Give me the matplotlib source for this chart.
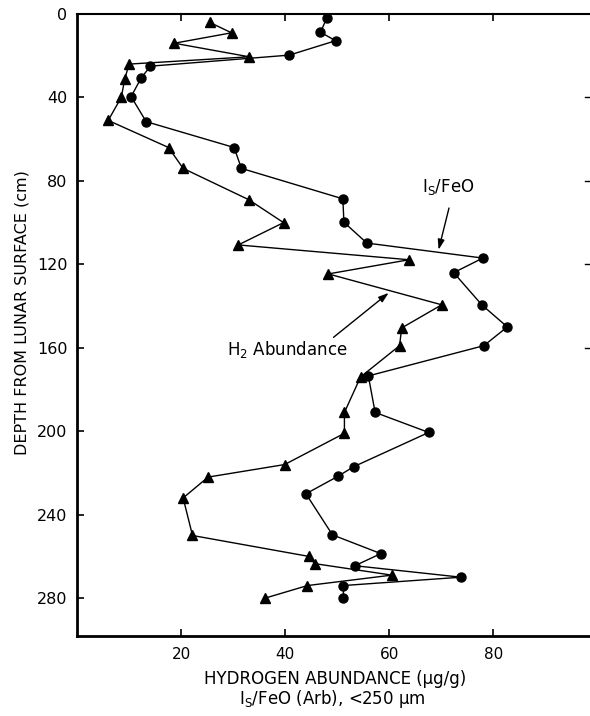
import matplotlib
matplotlib.use("Agg")
import matplotlib.pyplot as plt

plt.rcParams["font.family"] = ["DejaVu Sans"]

# -------------------------------------------------
# DATA
# -------------------------------------------------
h2_depth = [4, 9, 14, 20.5, 24, 31, 40, 51, 64, 74, 89, 100, 110.7, 117.8, 124.6,
            139.4, 150.5, 159, 174, 191, 201, 216, 222, 232, 250, 260, 263.5,
            269, 274, 280]
h2_abund = [25.5, 29.7, 18.7, 33.1, 10, 9.2, 8.5, 6, 17.6, 20.4, 33, 39.7, 31,
            63.8, 48.3, 70.1, 62.4, 62, 54.5, 51.4, 51.4, 39.9, 25.2, 20.4, 22.2,
            44.5, 45.7, 60.5, 44.3, 36.2]

is_depth = [2, 8.7, 12.8, 19.7, 25, 30.8, 39.6, 51.6, 64, 74, 88.6, 99.8, 109.8,
            117, 124, 139.4, 150, 159, 173.5, 191, 200.6, 217, 221.7, 230, 249.7,
            258.7, 264.5, 270, 274, 280]
is_feo = [48, 46.8, 49.7, 40.8, 14.1, 12.3, 10.4, 13.3, 30.2, 31.6, 51.1, 51.3,
          55.7, 78, 72.4, 77.8, 82.7, 78.2, 56, 57.3, 67.6, 53.2, 50.1, 44, 49.1,
          58.4, 53.4, 73.8, 51.2, 51.2]

x_ticks = [20, 40, 60, 80]
y_ticks = [0, 40, 80, 120, 160, 200, 240, 280]

# -------------------------------------------------
# PLOT
# -------------------------------------------------
fig = plt.figure(figsize=(5.9, 7.16), dpi=100)
ax = fig.add_axes([0.1305, 0.1117, 0.8695, 0.8687])

ax.plot(h2_abund, h2_depth, color="black", lw=1.0, marker="^", ms=6.5)
ax.plot(is_feo, is_depth, color="black", lw=1.0, marker="o", ms=6.5)

ax.set_xlim(0, 98.6)
ax.set_ylim(298.2, 0)
ax.set_xticks(x_ticks)
ax.set_yticks(y_ticks)
ax.tick_params(direction="in", length=5, width=1.2, top=True, labeltop=False)
ax.tick_params(axis="x", labelsize=11, pad=8)
ax.tick_params(axis="y", labelsize=11.5, pad=7)

ax.spines["right"].set_visible(False)
ax.spines["left"].set_linewidth(2)
ax.spines["bottom"].set_linewidth(2)
ax.spines["top"].set_linewidth(1.5)

# small marks on the open right side
for d in [40, 80, 120, 160]:
    ax.plot([97.6, 98.6], [d, d], color="black", lw=1, clip_on=False)

# axis titles
fig.text(22 / 590, 1 - 313 / 716, "DEPTH FROM LUNAR SURFACE (cm)",
         rotation=90, ha="center", va="center", fontsize=11.5)
fig.text(335 / 590, 1 - 679 / 716, "HYDROGEN ABUNDANCE (\u03bcg/g)",
         ha="center", va="center", fontsize=12)
fig.text(332 / 590, 1 - 699 / 716, "I$_\\mathregular{S}$/FeO (Arb), <250 \u03bcm",
         ha="center", va="center", fontsize=12)

# labels with arrows
arrow = dict(arrowstyle="-|>,head_length=0.6,head_width=0.2", color="black",
             lw=1, shrinkA=0, shrinkB=0)
ax.text(71.4, 83, "I$_\\mathregular{S}$/FeO", fontsize=12, ha="center", va="center")
ax.annotate("", xy=(69.5, 113), xytext=(71.5, 93), arrowprops=arrow)
ax.text(40.5, 161, "H$_2$ Abundance", fontsize=12, ha="center", va="center")
ax.annotate("", xy=(59.9, 133.7), xytext=(49.3, 155), arrowprops=arrow)

fig.savefig("out.png", dpi=100)
